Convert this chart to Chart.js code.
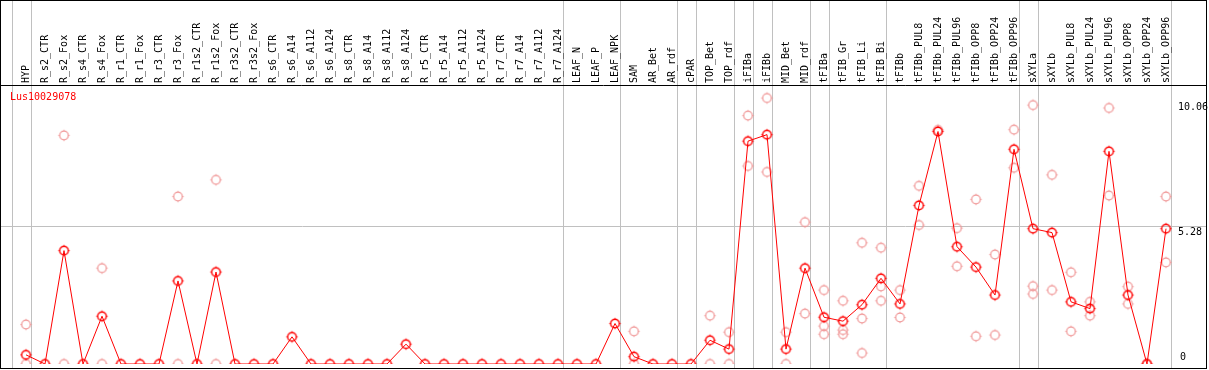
<!DOCTYPE html>
<html><head><meta charset="utf-8">
<script src="https://cdn.jsdelivr.net/npm/chart.js@4/dist/chart.umd.min.js"></script>
<style>html,body{margin:0;padding:0;background:#fff}canvas{display:block}</style>
</head><body>
<canvas id="c" width="1209" height="370"></canvas>
<script>
const categories = ["HYP","R_s2_CTR","R_s2_Fox","R_s4_CTR","R_s4_Fox","R_r1_CTR","R_r1_Fox","R_r3_CTR","R_r3_Fox","R_r1s2_CTR","R_r1s2_Fox","R_r3s2_CTR","R_r3s2_Fox","R_s6_CTR","R_s6_A14","R_s6_A112","R_s6_A124","R_s8_CTR","R_s8_A14","R_s8_A112","R_s8_A124","R_r5_CTR","R_r5_A14","R_r5_A112","R_r5_A124","R_r7_CTR","R_r7_A14","R_r7_A112","R_r7_A124","LEAF_N","LEAF_P","LEAF_NPK","SAM","AR_Bet","AR_rdf","cPAR","TOP_Bet","TOP_rdf","iFIBa","iFIBb","MID_Bet","MID_rdf","tFIBa","tFIB_Gr","tFIB_Li","tFIB_Bi","tFIBb","tFIBb_PUL8","tFIBb_PUL24","tFIBb_PUL96","tFIBb_OPP8","tFIBb_OPP24","tFIBb_OPP96","sXYLa","sXYLb","sXYLb_PUL8","sXYLb_PUL24","sXYLb_PUL96","sXYLb_OPP8","sXYLb_OPP24","sXYLb_OPP96"];

const meanValues = [0.35,0,4.34,0,1.83,0,0,0,3.18,0,3.52,0,0,0,1.04,0,0,0,0,0,0.76,0,0,0,0,0,0,0,0,0,0,1.55,0.28,0,0,0,0.91,0.57,8.53,8.78,0.57,3.67,1.79,1.64,2.27,3.28,2.30,6.07,8.90,4.49,3.71,2.64,8.22,5.18,5.03,2.38,2.12,8.14,2.64,0,5.18];

const rep1 = [1.51,null,8.75,null,3.67,null,null,null,6.41,null,7.05,null,null,null,null,null,null,null,null,null,null,null,null,null,null,null,null,null,null,null,null,null,1.25,null,null,null,1.85,1.22,9.51,10.18,1.22,5.43,2.83,2.42,4.64,4.45,2.83,6.82,8.96,5.20,6.30,4.19,8.97,9.91,7.24,3.51,2.38,9.80,2.96,0,6.41];
const rep2 = [0,null,0,null,0,null,null,null,0,null,0,null,null,null,null,null,null,null,null,null,null,null,null,null,null,null,null,null,null,null,null,null,0,null,null,null,0,0,7.58,7.35,0,1.93,1.45,1.30,1.74,2.97,1.78,5.32,null,3.74,1.06,1.11,7.51,2.98,2.83,1.25,1.85,6.45,2.30,null,3.89];
const rep3 = [null,null,null,null,null,null,null,null,null,null,null,null,null,null,null,null,null,null,null,null,null,null,null,null,null,null,null,null,null,null,null,null,null,null,null,null,null,null,null,null,null,null,1.14,1.14,0.42,2.42,null,null,null,null,null,null,null,2.68,null,null,null,null,null,null,null];

const yTicks = [0, 5.28, 10.06];
const groupEnds = [-1,0,28,31,34,35,37,38,39,41,42,45,52,53,60];
const title = "Lus10029078";

const MONO = "'DejaVu Sans Mono', 'Liberation Mono', monospace";

function marker(color, lw) {
  const c = document.createElement('canvas');
  c.width = 15; c.height = 15;
  const g = c.getContext('2d');
  g.strokeStyle = color;
  g.lineWidth = lw;
  g.beginPath(); g.arc(7.5, 7.5, 4.3, 0, Math.PI * 2); g.stroke();
  g.lineWidth = 1;
  g.beginPath();
  g.moveTo(7.5, 1.8); g.lineTo(7.5, 2.8);
  g.moveTo(7.5, 12.2); g.lineTo(7.5, 13.2);
  g.moveTo(1.8, 7.5); g.lineTo(2.8, 7.5);
  g.moveTo(12.2, 7.5); g.lineTo(13.2, 7.5);
  g.stroke();
  return c;
}
const darkMarker = marker('#ff0000', 1.4);
const lightMarker = marker('rgb(240,150,150)', 1.2);

const framePlugin = {
  id: 'frame',
  beforeDatasetsDraw(chart) {
    const ctx = chart.ctx, xs = chart.scales.x, ys = chart.scales.y;
    ctx.save();
    ctx.strokeStyle = '#c0c0c0';
    ctx.lineWidth = 1;
    yTicks.forEach(v => {
      if (v > 0 && v < 10) {
        const y = Math.round(ys.getPixelForValue(v)) + 0.5;
        ctx.beginPath(); ctx.moveTo(1, y); ctx.lineTo(1207, y); ctx.stroke();
      }
    });
    groupEnds.forEach(i => {
      const x = Math.round(xs.getPixelForValue(i) + 5) + 0.5;
      ctx.beginPath(); ctx.moveTo(x, 1); ctx.lineTo(x, 369); ctx.stroke();
    });
    ctx.restore();
  },
  afterDraw(chart) {
    const ctx = chart.ctx, xs = chart.scales.x, ys = chart.scales.y, area = chart.chartArea;
    ctx.save();
    ctx.strokeStyle = '#000';
    ctx.lineWidth = 1;
    ctx.strokeRect(0.5, 0.5, 1206, 368);
    ctx.beginPath(); ctx.moveTo(0, Math.round(area.top) + 0.5); ctx.lineTo(1207, Math.round(area.top) + 0.5); ctx.stroke();
    ctx.font = '10px ' + MONO;
    // category labels (rotated, reading upward)
    ctx.fillStyle = '#000';
    ctx.textAlign = 'left';
    ctx.textBaseline = 'middle';
    categories.forEach((lab, i) => {
      const x = xs.getPixelForValue(i);
      ctx.save();
      ctx.translate(x, area.top - 2);
      ctx.rotate(-Math.PI / 2);
      ctx.fillText(lab, 0, 0);
      ctx.restore();
    });
    ctx.fillStyle = '#ff0000';
    ctx.fillText(title, 10, 97);
    ctx.fillStyle = '#000';
    yTicks.forEach(v => {
      const y = ys.getPixelForValue(v);
      const label = v === 0 ? '0' : v.toFixed(2);
      if (v === 0) { ctx.textBaseline = 'bottom'; ctx.fillText(label, 1180, y - 2); }
      else { ctx.textBaseline = 'top'; ctx.fillText(label, 1178, y + 1); }
    });
    ctx.restore();
  }
};

const lightDs = (data) => ({
  data, showLine: false, pointStyle: lightMarker, pointRadius: 5,
  borderColor: 'rgb(240,150,150)', backgroundColor: 'rgb(240,150,150)'
});

new Chart(document.getElementById('c'), {
  type: 'line',
  data: {
    labels: categories,
    datasets: [
      { data: meanValues, borderColor: '#ff0000', borderWidth: 1, tension: 0,
        pointStyle: darkMarker, pointRadius: 5, backgroundColor: '#ff0000' },
      lightDs(rep1), lightDs(rep2), lightDs(rep3)
    ]
  },
  options: {
    responsive: false,
    animation: false,
    devicePixelRatio: 1,
    events: [],
    layout: { padding: { left: 26, right: 0, top: 0, bottom: 1.5 } },
    plugins: { legend: { display: false }, tooltip: { enabled: false }, title: { display: false } },
    scales: {
      x: {
        type: 'category', position: 'top', offset: false,
        grid: { display: false }, border: { display: false },
        ticks: { display: false, autoSkip: false },
        afterFit: s => { s.height = 85; }
      },
      y: {
        position: 'right', min: 0, max: 10.68,
        grid: { display: false }, border: { display: false },
        ticks: { display: false },
        afterBuildTicks: s => { s.ticks = yTicks.map(v => ({ value: v })); },
        afterFit: s => { s.width = 43; }
      }
    }
  },
  plugins: [framePlugin]
});
</script>
</body></html>
